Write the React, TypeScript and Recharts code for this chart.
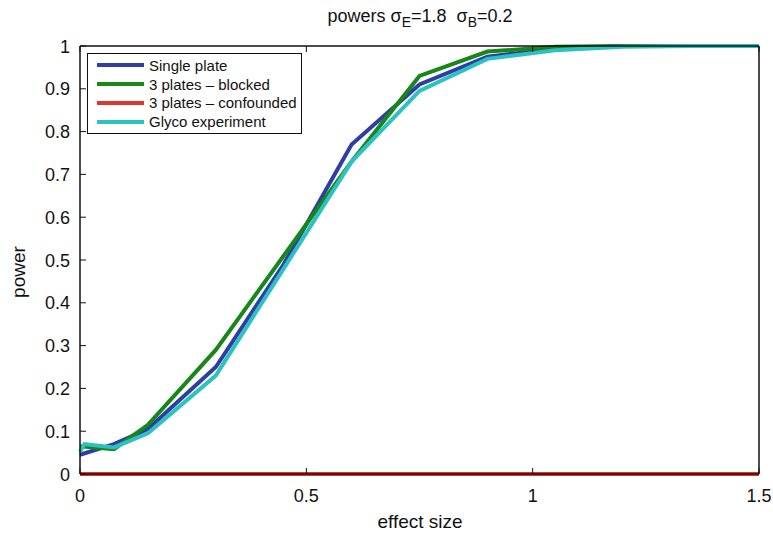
import {
  LineChart, Line, XAxis, YAxis,
} from 'recharts';

const effectSize = [0, 0.01, 0.075, 0.15, 0.3, 0.45, 0.6, 0.75, 0.9, 1.05, 1.2, 1.35, 1.5];
const singlePlate = [0.045, null, 0.07, 0.105, 0.25, 0.49, 0.77, 0.91, 0.975, 0.993, 1, 1, 1];
const blocked = [0.065, null, 0.058, 0.115, 0.29, 0.51, 0.73, 0.93, 0.987, 0.998, 1, 1, 1];
const confounded = [0, null, 0, 0, 0, 0, 0, 0, 0, 0, 0, 0, 0];
const glyco = [0.052, 0.07, 0.062, 0.095, 0.23, 0.48, 0.73, 0.895, 0.97, 0.99, 0.998, 1, 1];

const xTicks = [0, 0.5, 1, 1.5];
const yTicks = [0, 0.1, 0.2, 0.3, 0.4, 0.5, 0.6, 0.7, 0.8, 0.9, 1];

const series = [
  { key: 'single', name: 'Single plate', color: '#2f3ea3' },
  { key: 'blocked', name: '3 plates \u2013 blocked', color: '#178717' },
  { key: 'confounded', name: '3 plates \u2013 confounded', color: '#e2342b' },
  { key: 'glyco', name: 'Glyco experiment', color: '#2cc2c2' },
];

const data = effectSize.map((x, i) => ({
  x,
  single: singlePlate[i],
  blocked: blocked[i],
  confounded: confounded[i],
  glyco: glyco[i],
}));

const font = '"Liberation Sans", Arial, sans-serif';
const axisLine = { stroke: '#111', strokeWidth: 1.5 };
const GAP = 10; // tickMargin used by all axes; custom ticks draw back from it
const TL = 6; // inward tick length

// matlab-style inward ticks, label drawn by the tick itself
function BottomTick({ x, y, payload }: any) {
  const ay = y - GAP;
  return (
    <g>
      <line x1={x} x2={x} y1={ay} y2={ay - TL} stroke="#111" />
      <text x={x} y={ay + 28} textAnchor="middle" fontSize={18} fontFamily={font} fill="#111">
        {String(payload.value)}
      </text>
    </g>
  );
}

function TopTick({ x, y }: any) {
  const ay = y + GAP;
  return <line x1={x} x2={x} y1={ay} y2={ay + TL} stroke="#111" />;
}

function LeftTick({ x, y, payload }: any) {
  const ax = x + GAP;
  return (
    <g>
      <line x1={ax} x2={ax + TL} y1={y} y2={y} stroke="#111" />
      <text x={ax - 10} y={y + 6.5} textAnchor="end" fontSize={18} fontFamily={font} fill="#111">
        {String(payload.value)}
      </text>
    </g>
  );
}

function RightTick({ x, y }: any) {
  const ax = x - GAP;
  return <line x1={ax} x2={ax - TL} y1={y} y2={y} stroke="#111" />;
}

function LegendBox() {
  return (
    <div style={{
      position: 'absolute', left: 87, top: 53, width: 213, height: 77,
      border: '1.5px solid #111', background: '#fff', paddingTop: 2,
      fontFamily: font, fontSize: 15, color: '#111', whiteSpace: 'nowrap',
    }}>
      {series.map((s) => (
        <div key={s.key} style={{ display: 'flex', alignItems: 'center', height: 18.8 }}>
          <svg width={61} height={10} style={{ flex: 'none' }}>
            <line x1={9} y1={5} x2={56} y2={5} stroke={s.color} strokeWidth={4} />
          </svg>
          <span>{s.name}</span>
        </div>
      ))}
    </div>
  );
}

export default function App() {
  return (
    <div style={{ position: 'absolute', left: 0, top: 0, width: 773, height: 534, background: '#fff' }}>
      <LineChart
        width={773} height={534} data={data}
        margin={{ top: 45, right: 13, bottom: 20, left: 0 }}
      >
        <XAxis
          dataKey="x" type="number" domain={[0, 1.5]} ticks={xTicks}
          tick={<BottomTick />} height={40}
          axisLine={axisLine} tickLine={false} tickSize={0} tickMargin={GAP}
        />
        <XAxis
          xAxisId="top" orientation="top" dataKey="x" type="number" domain={[0, 1.5]}
          ticks={xTicks} tick={<TopTick />} height={1}
          axisLine={axisLine} tickLine={false} tickSize={0} tickMargin={GAP}
        />
        <YAxis
          type="number" domain={[0, 1]} ticks={yTicks}
          tick={<LeftTick />} width={80}
          axisLine={axisLine} tickLine={false} tickSize={0} tickMargin={GAP}
        />
        <YAxis
          yAxisId="right" orientation="right" type="number" domain={[0, 1]}
          ticks={yTicks} tick={<RightTick />} width={1}
          axisLine={axisLine} tickLine={false} tickSize={0} tickMargin={GAP}
        />
        {series.map((s) => (
          <Line
            key={s.key} dataKey={s.key} name={s.name} type="linear"
            stroke={s.color} strokeWidth={4} dot={false} connectNulls
            isAnimationActive={false}
          />
        ))}
      </LineChart>
      <div style={{
        position: 'absolute', top: 6, left: 80, width: 680, textAlign: 'center',
        fontFamily: font, fontSize: 18, color: '#111',
      }}>
        powers {'\u03c3'}<sub style={{ fontSize: 14 }}>E</sub>=1.8&nbsp;&nbsp;{'\u03c3'}<sub style={{ fontSize: 14 }}>B</sub>=0.2
      </div>
      <div style={{
        position: 'absolute', left: 19, top: 272, transform: 'translate(-50%, -50%) rotate(-90deg)',
        fontFamily: font, fontSize: 19, color: '#111',
      }}>power</div>
      <div style={{
        position: 'absolute', left: 420, top: 522, transform: 'translate(-50%, -50%)',
        fontFamily: font, fontSize: 19, color: '#111', whiteSpace: 'nowrap',
      }}>effect size</div>
      <LegendBox />
    </div>
  );
}
